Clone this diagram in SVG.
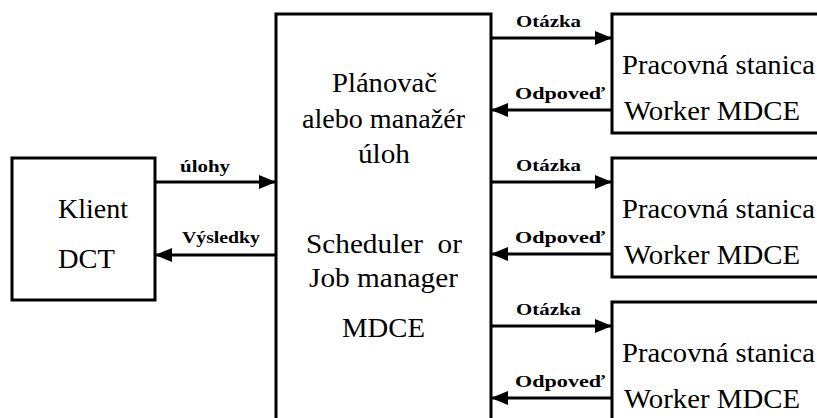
<svg xmlns="http://www.w3.org/2000/svg" width="817" height="418" viewBox="0 0 817 418">
<style>
.box{fill:#fff;stroke:#000;stroke-width:3}
.t{font-family:'Liberation Serif','Times New Roman',serif;font-size:28px;fill:#000}
.l{font-family:'Liberation Serif','Times New Roman',serif;font-size:17px;font-weight:bold;fill:#000}
.c{stroke:#000;stroke-width:3;fill:none}
</style>
<defs>
<marker id="ah" markerUnits="userSpaceOnUse" markerWidth="18" markerHeight="14" refX="17" refY="7" orient="auto">
<path d="M0,0 L17,7 L0,14 Z" fill="#000"/>
</marker>
</defs>
<rect width="817" height="418" fill="#fff"/>
<g id="klient">
<rect class="box" x="12" y="158" width="143" height="142"/>
<text class="t" x="58" y="218" textLength="70" lengthAdjust="spacingAndGlyphs">Klient</text>
<text class="t" x="58" y="268" textLength="57" lengthAdjust="spacingAndGlyphs">DCT</text>
</g>
<g id="planovac">
<rect class="box" x="276" y="14" width="215" height="420"/>
<text class="t" x="332" y="92" textLength="105" lengthAdjust="spacingAndGlyphs">Plánovač</text>
<text class="t" x="302" y="128" textLength="163" lengthAdjust="spacingAndGlyphs">alebo manažér</text>
<text class="t" x="358" y="163" textLength="52" lengthAdjust="spacingAndGlyphs">úloh</text>
<text class="t" x="306" y="253" textLength="156" lengthAdjust="spacingAndGlyphs" xml:space="preserve">Scheduler  or</text>
<text class="t" x="309" y="287" textLength="149" lengthAdjust="spacingAndGlyphs">Job manager</text>
<text class="t" x="342" y="337" textLength="83" lengthAdjust="spacingAndGlyphs">MDCE</text>
</g>
<g id="worker1">
<rect class="box" x="612" y="14" width="220" height="119"/>
<text class="t" x="622" y="74" textLength="193" lengthAdjust="spacingAndGlyphs">Pracovná stanica</text>
<text class="t" x="624" y="120" textLength="176" lengthAdjust="spacingAndGlyphs">Worker MDCE</text>
</g>
<g id="worker2">
<rect class="box" x="612" y="158" width="220" height="119"/>
<text class="t" x="622" y="218" textLength="193" lengthAdjust="spacingAndGlyphs">Pracovná stanica</text>
<text class="t" x="624" y="264" textLength="176" lengthAdjust="spacingAndGlyphs">Worker MDCE</text>
</g>
<g id="worker3">
<rect class="box" x="612" y="302" width="220" height="130"/>
<text class="t" x="622" y="362" textLength="193" lengthAdjust="spacingAndGlyphs">Pracovná stanica</text>
<text class="t" x="624" y="408" textLength="176" lengthAdjust="spacingAndGlyphs">Worker MDCE</text>
</g>
<g id="connectors">
<line class="c" x1="155" y1="182" x2="276" y2="182" marker-end="url(#ah)"/>
<line class="c" x1="276" y1="255" x2="155" y2="255" marker-end="url(#ah)"/>
<line class="c" x1="491" y1="38" x2="612" y2="38" marker-end="url(#ah)"/>
<line class="c" x1="612" y1="110" x2="491" y2="110" marker-end="url(#ah)"/>
<line class="c" x1="491" y1="182" x2="612" y2="182" marker-end="url(#ah)"/>
<line class="c" x1="612" y1="254" x2="491" y2="254" marker-end="url(#ah)"/>
<line class="c" x1="491" y1="326" x2="612" y2="326" marker-end="url(#ah)"/>
<line class="c" x1="612" y1="398" x2="491" y2="398" marker-end="url(#ah)"/>
<text class="l" x="180" y="172" textLength="50" lengthAdjust="spacingAndGlyphs">úlohy</text>
<text class="l" x="182" y="243" textLength="78" lengthAdjust="spacingAndGlyphs">Výsledky</text>
<text class="l" x="516" y="27" textLength="65" lengthAdjust="spacingAndGlyphs">Otázka</text>
<text class="l" x="515" y="99" textLength="90" lengthAdjust="spacingAndGlyphs">Odpoveď</text>
<text class="l" x="516" y="171" textLength="65" lengthAdjust="spacingAndGlyphs">Otázka</text>
<text class="l" x="515" y="243" textLength="90" lengthAdjust="spacingAndGlyphs">Odpoveď</text>
<text class="l" x="516" y="315" textLength="65" lengthAdjust="spacingAndGlyphs">Otázka</text>
<text class="l" x="515" y="387" textLength="90" lengthAdjust="spacingAndGlyphs">Odpoveď</text>
</g>
</svg>
